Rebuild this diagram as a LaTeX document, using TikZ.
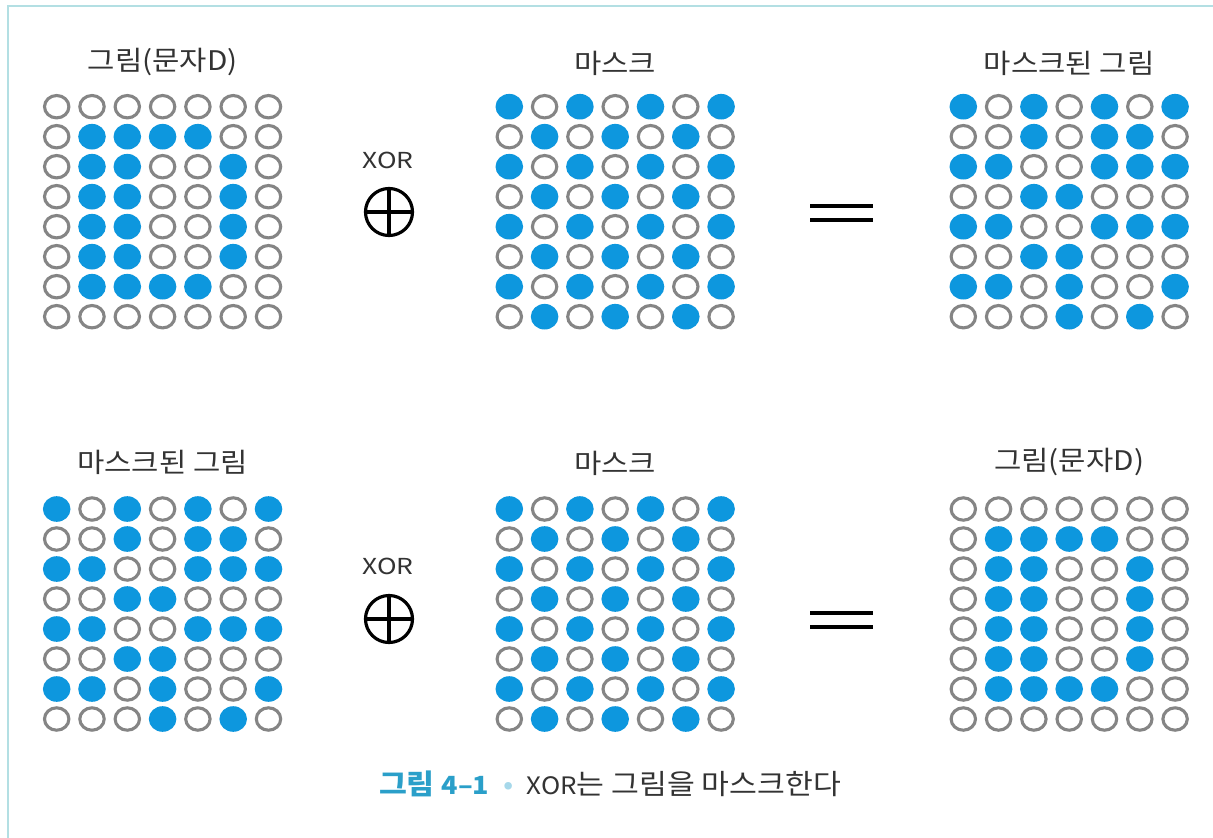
\documentclass[tikz,border=0pt]{standalone}
\usepackage{fontspec}
\newfontfamily\kr{Noto Sans CJK KR}
\definecolor{dotblue}{HTML}{0D97DE}
\definecolor{ringgray}{HTML}{858585}
\definecolor{framecol}{HTML}{B3DFE3}
\definecolor{txt}{HTML}{333333}
\definecolor{capblue}{HTML}{2A9FC9}
\definecolor{capdot}{HTML}{A6D8EA}
\def\Dpat{{0,0,0,0,0,0,0},{0,1,1,1,1,0,0},{0,1,1,0,0,1,0},{0,1,1,0,0,1,0},{0,1,1,0,0,1,0},{0,1,1,0,0,1,0},{0,1,1,1,1,0,0},{0,0,0,0,0,0,0}}
\def\Mpat{{1,0,1,0,1,0,1},{0,1,0,1,0,1,0},{1,0,1,0,1,0,1},{0,1,0,1,0,1,0},{1,0,1,0,1,0,1},{0,1,0,1,0,1,0},{1,0,1,0,1,0,1},{0,1,0,1,0,1,0}}
\def\Xpat{{1,0,1,0,1,0,1},{0,0,1,0,1,1,0},{1,1,0,0,1,1,1},{0,0,1,1,0,0,0},{1,1,0,0,1,1,1},{0,0,1,1,0,0,0},{1,1,0,1,0,0,1},{0,0,0,1,0,1,0}}
\newcommand\dotgrid[4]{%
  \foreach \rowlist [count=\rr] in #4 {%
    \foreach \vv [count=\cc] in \rowlist {%
      \coordinate (#1-\rr-\cc) at ({#2+(\cc-1)*35.3},{#3+(\rr-1)*30});
      \ifnum\vv=1
        \fill[dotblue] (#1-\rr-\cc) ellipse [x radius=13.8, y radius=12.8];
      \else
        \draw[ringgray, line width=3.1, fill=white] (#1-\rr-\cc) ellipse [x radius=12.2, y radius=11.2];
      \fi
    }%
  }%
}
\newcommand\wide[2][1.1]{\scalebox{#1}[1]{#2}}
\tikzset{
  lab/.style={font=\kr\fontsize{27}{30}\selectfont, text=txt, inner sep=0pt},
  xorlab/.style={font=\kr\fontsize{22}{24}\selectfont, text=txt, inner sep=0pt},
  oplus/.style={draw=black, circle, line width=3.2, minimum size=47, inner sep=0pt},
  eqline/.style={draw=black, line width=4.2},
  caption/.style={font=\kr\fontsize{28}{30}\selectfont, text=txt, inner sep=0pt}
}
\begin{document}
\begin{tikzpicture}[x=1pt, y=-1pt]
\useasboundingbox (0,0) rectangle (1213,838);
\fill[white] (0,0) rectangle (1213,838);
\draw[framecol, line width=2.5] (8,838) -- (8,6) -- (1213,6);

% top row
\node[lab] (lab1) at (162.6,62) {\wide{그림(문자D)}};
\node[lab] (lab2) at (615.2,63) {\wide{마스크}};
\node[lab] (lab3) at (1069.2,63) {\wide{마스크된 그림}};
\dotgrid{A}{56.7}{106.7}{\Dpat}
\dotgrid{B}{509.3}{106.7}{\Mpat}
\dotgrid{C}{963.3}{106.7}{\Xpat}
\node[xorlab] (xor1) at (388,160) {\wide[1.2]{XOR}};
\node[oplus] (op1) at (389,212) {};
\draw[line width=3.2] (op1.north) -- (op1.south) (op1.west) -- (op1.east);
\coordinate (e1a) at (810,206); \coordinate (e1b) at (873,206);
\coordinate (e1c) at (810,220); \coordinate (e1d) at (873,220);
\draw[eqline] (e1a) -- (e1b) (e1c) -- (e1d);

% bottom row
\node[lab] (lab4) at (162.6,462) {\wide{마스크된 그림}};
\node[lab] (lab5) at (615.2,463) {\wide{마스크}};
\node[lab] (lab6) at (1069.2,462) {\wide{그림(문자D)}};
\dotgrid{D}{56.7}{509}{\Xpat}
\dotgrid{E}{509.3}{509}{\Mpat}
\dotgrid{F}{963.3}{509}{\Dpat}
\node[xorlab] (xor2) at (388,566) {\wide[1.2]{XOR}};
\node[oplus] (op2) at (389,619) {};
\draw[line width=3.2] (op2.north) -- (op2.south) (op2.west) -- (op2.east);
\coordinate (e2a) at (810,613); \coordinate (e2b) at (873,613);
\coordinate (e2c) at (810,627); \coordinate (e2d) at (873,627);
\draw[eqline] (e2a) -- (e2b) (e2c) -- (e2d);

% caption
\node[caption] (cap) at (610,784) {\wide[1.08]{{\bfseries\color{capblue}그림 {\fontsize{25}{30}\selectfont 4–1}}\hspace{0.45em}{\color{capdot}•}\hspace{0.45em}{\fontsize{24}{30}\selectfont XOR}는 그림을 마스크한다}};
\end{tikzpicture}
\end{document}
